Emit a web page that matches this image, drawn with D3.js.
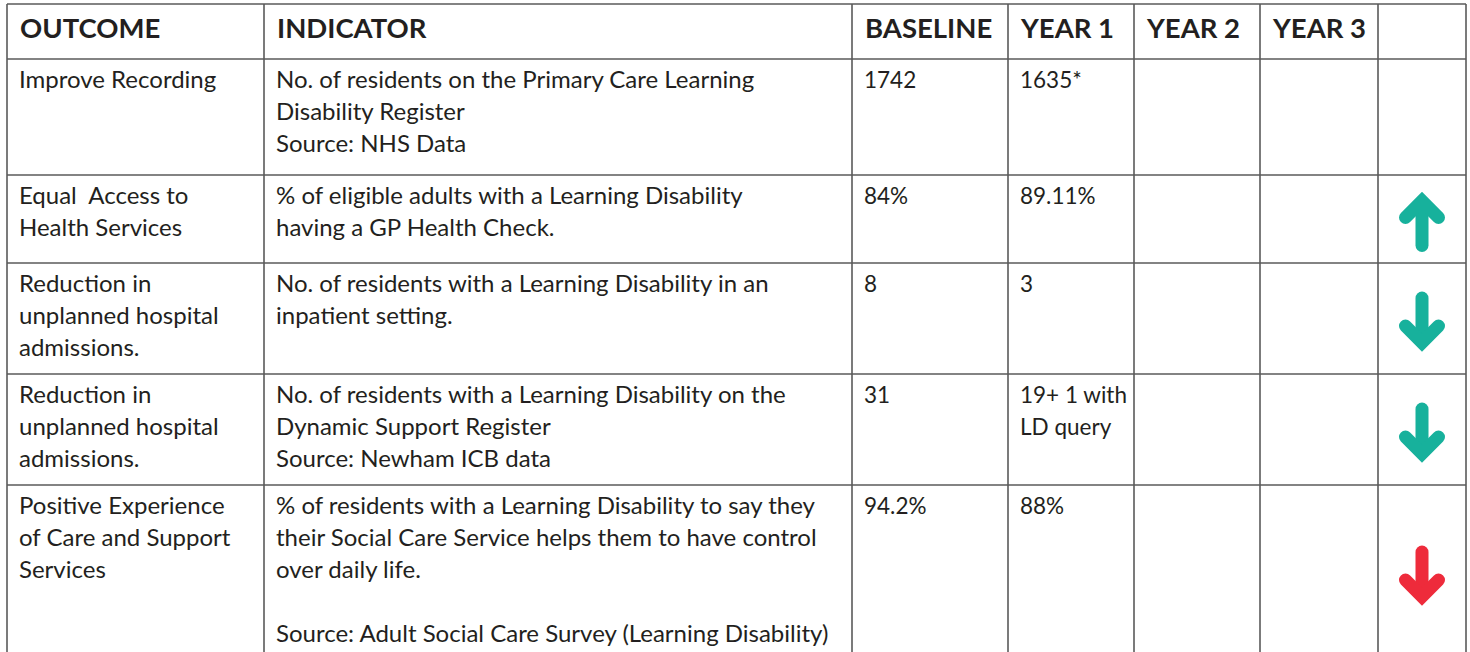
<!DOCTYPE html>
<html>
<head>
<meta charset="utf-8">
<script src="https://cdn.jsdelivr.net/npm/d3@7"></script>
<style>
  body { margin: 0; background: #fff; }
  svg { display: block; }
  text { white-space: pre; }
</style>
</head>
<body>
<script>
// table content
const headers = ["OUTCOME", "INDICATOR", "BASELINE", "YEAR 1", "YEAR 2", "YEAR 3", ""];
const outcomes = [
    ["Improve Recording"],
    ["Equal  Access to", "Health Services"],
    ["Reduction in", "unplanned hospital", "admissions."],
    ["Reduction in", "unplanned hospital", "admissions."],
    ["Positive Experience", "of Care and Support", "Services"]
];
const indicators = [
    ["No. of residents on the Primary Care Learning", "Disability Register", "Source: NHS Data"],
    ["% of eligible adults with a Learning Disability", "having a GP Health Check."],
    ["No. of residents with a Learning Disability in an", "inpatient setting."],
    ["No. of residents with a Learning Disability on the", "Dynamic Support Register", "Source: Newham ICB data"],
    ["% of residents with a Learning Disability to say they", "their Social Care Service helps them to have control", "over daily life.", "", "Source: Adult Social Care Survey (Learning Disability)"]
];
const baseline = [["1742"], ["84%"], ["8"], ["31"], ["94.2%"]];
const year1 = [["1635*"], ["89.11%"], ["3"], ["19+ 1 with", "LD query"], ["88%"]];
const year2 = [[], [], [], [], []];
const year3 = [[], [], [], [], []];
// direction of change and whether it is good
const trend = [null, "up", "down", "down", "down"];
const status = [null, "good", "good", "good", "bad"];

// layout
const W = 1470, H = 652;
const colEdges = [7, 264, 852, 1008, 1134, 1260, 1378, 1466];
const rowEdges = [4, 59, 175, 263, 374, 485, 660];
const lineH = 32;
const textColor = "#231f20";
const gridColor = "#5a5a5a";
const colors = { good: "#17b19c", bad: "#ee2b3b" };

const svg = d3.select("body").append("svg")
    .attr("width", W)
    .attr("height", H);

const colKeys = d3.range(headers.length);
const x = d3.scaleOrdinal().domain(colKeys).range(colEdges.slice(0, -1));
const xEnd = d3.scaleOrdinal().domain(colKeys).range(colEdges.slice(1));
const rowKeys = d3.range(-1, outcomes.length);
const y = d3.scaleOrdinal().domain(rowKeys).range(rowEdges.slice(0, -1));
const yEnd = d3.scaleOrdinal().domain(rowKeys).range(rowEdges.slice(1));

// header text
svg.append("g").selectAll("text")
    .data(headers)
    .enter().append("text")
    .attr("x", (d, i) => x(i) + 13)
    .attr("y", 38)
    .attr("font-family", "Lato, sans-serif")
    .attr("font-weight", 700)
    .attr("font-size", "27.5px")
    .attr("fill", textColor)
    .text(d => d);

// body cells
const columns = [outcomes, indicators, baseline, year1, year2, year3];
const cells = [];
columns.forEach((col, ci) => {
    col.forEach((lines, ri) => cells.push({ ci, ri, lines }));
});

const cellText = svg.append("g").selectAll("text")
    .data(cells)
    .enter().append("text")
    .attr("font-family", "Lato, sans-serif")
    .attr("font-size", d => d.ci < 2 ? "24px" : "22.5px")
    .attr("fill", textColor);

cellText.selectAll("tspan")
    .data(d => d.lines.map((t, k) => ({ t, k, d })))
    .enter().append("tspan")
    .attr("x", e => x(e.d.ci) + 12)
    .attr("y", e => y(e.d.ri) + 29 + e.k * lineH)
    .text(e => e.t);

// trend arrows
const arrows = trend.map((t, i) => ({ t, i, s: status[i] })).filter(d => d.t);
const ag = svg.append("g").selectAll("g")
    .data(arrows)
    .enter().append("g")
    .attr("transform", d => {
        const cx = (x(6) + xEnd(6)) / 2;
        const cy = (y(d.i) + yEnd(d.i)) / 2 + 3;
        return `translate(${cx},${cy})` + (d.t === "down" ? " scale(1,-1)" : "");
    })
    .attr("fill", "none")
    .attr("stroke", d => colors[d.s])
    .attr("stroke-width", 13);

ag.append("line")
    .attr("x1", 0).attr("x2", 0)
    .attr("y1", -20).attr("y2", 23.5)
    .attr("stroke-linecap", "round");
ag.append("path")
    .attr("d", "M-16.5,-4.5L0,-21L16.5,-4.5")
    .attr("stroke-linecap", "round")
    .attr("stroke-linejoin", "miter");

// grid
const grid = svg.append("g")
    .attr("stroke", gridColor)
    .attr("stroke-width", 1.6);
grid.selectAll(".v")
    .data(colEdges)
    .enter().append("line")
    .attr("x1", d => d).attr("x2", d => d)
    .attr("y1", rowEdges[0]).attr("y2", rowEdges[rowEdges.length - 1]);
grid.selectAll(".h")
    .data(rowEdges)
    .enter().append("line")
    .attr("x1", colEdges[0]).attr("x2", colEdges[colEdges.length - 1])
    .attr("y1", d => d).attr("y2", d => d);
</script>
</body>
</html>
